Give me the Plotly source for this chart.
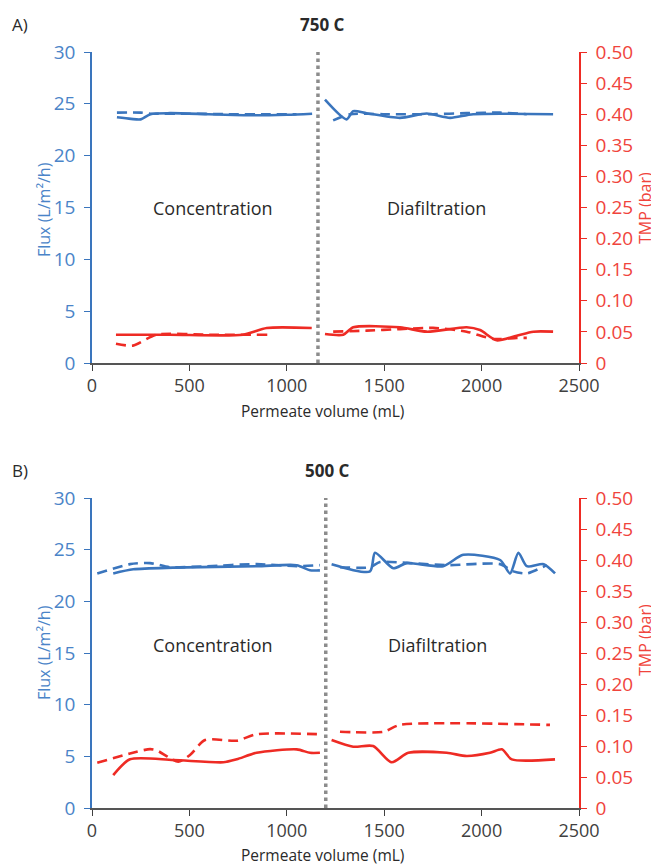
import plotly.graph_objects as go

# ---------------- DATA ----------------
# Panel A (750 C)
a_flux_solid_conc_x = [128, 200, 250, 300, 400, 600, 800, 1000, 1130]
a_flux_solid_conc_y = [23.7, 23.55, 23.5, 24.0, 24.1, 24.0, 23.9, 23.95, 24.05]
a_flux_dash_conc_x = [128, 250, 300, 500, 700, 900, 1050]
a_flux_dash_conc_y = [24.15, 24.15, 24.05, 24.05, 24.0, 24.0, 24.0]
a_flux_solid_dia_x = [1196, 1307, 1341, 1410, 1581, 1718, 1838, 1957, 2367]
a_flux_solid_dia_y = [25.4, 23.5, 24.3, 24.1, 23.65, 24.07, 23.65, 24.0, 24.0]
a_flux_dash_dia_x = [1238, 1325, 1494, 1751, 1923, 2095, 2232]
a_flux_dash_dia_y = [23.4, 24.0, 24.0, 24.0, 24.1, 24.15, 24.0]

a_tmp_solid_conc_x = [123, 400, 775, 897, 1128]
a_tmp_solid_conc_y = [0.0455, 0.0455, 0.0455, 0.0563, 0.0563]
a_tmp_dash_conc_x = [123, 210, 330, 600, 900]
a_tmp_dash_conc_y = [0.031, 0.028, 0.0455, 0.0455, 0.0455]
a_tmp_solid_dia_x = [1196, 1290, 1341, 1581, 1718, 1923, 1992, 2077, 2180, 2266, 2367]
a_tmp_solid_dia_y = [0.0466, 0.0455, 0.0574, 0.0574, 0.0504, 0.0574, 0.053, 0.0365, 0.044, 0.0504, 0.0504]
a_tmp_dash_dia_x = [1238, 1410, 1581, 1751, 1923, 2060, 2180, 2232]
a_tmp_dash_dia_y = [0.0504, 0.052, 0.0545, 0.0565, 0.0504, 0.0386, 0.0404, 0.0404]

# Panel B (500 C)
b_flux_solid_conc_x = [109, 212, 416, 845, 1051, 1119, 1170]
b_flux_solid_conc_y = [22.7, 23.1, 23.26, 23.4, 23.5, 23.0, 23.0]
b_flux_dash_conc_x = [27, 195, 298, 400, 589, 845, 1051, 1170]
b_flux_dash_conc_y = [22.7, 23.6, 23.7, 23.3, 23.4, 23.6, 23.4, 23.5]
b_flux_solid_dia_x = [1230, 1427, 1453, 1547, 1615, 1803, 1906, 2095, 2146, 2189, 2232, 2319, 2377]
b_flux_solid_dia_y = [23.6, 22.9, 24.7, 23.2, 23.7, 23.4, 24.5, 24.0, 22.7, 24.7, 23.4, 23.6, 22.7]
b_flux_dash_dia_x = [1273, 1427, 1478, 1632, 1821, 2095, 2163, 2232, 2334]
b_flux_dash_dia_y = [23.3, 23.3, 23.8, 23.7, 23.5, 23.6, 22.9, 22.7, 23.5]

b_tmp_solid_conc_x = [109, 195, 417, 674, 743, 845, 1051, 1119, 1170]
b_tmp_solid_conc_y = [0.053, 0.0785, 0.0774, 0.0737, 0.0785, 0.089, 0.0946, 0.089, 0.089]
b_tmp_dash_conc_x = [27, 195, 298, 332, 443, 503, 580, 743, 845, 1170]
b_tmp_dash_conc_y = [0.073, 0.088, 0.095, 0.093, 0.0747, 0.0855, 0.1097, 0.1086, 0.119, 0.119]
b_tmp_solid_dia_x = [1230, 1341, 1443, 1538, 1624, 1821, 1923, 2043, 2104, 2155, 2377]
b_tmp_solid_dia_y = [0.1097, 0.0989, 0.1, 0.0737, 0.089, 0.089, 0.0839, 0.089, 0.0946, 0.0785, 0.0785]
b_tmp_dash_dia_x = [1273, 1496, 1581, 2351]
b_tmp_dash_dia_y = [0.123, 0.123, 0.134, 0.134]

divider_a = 1160
divider_b = 1200

x_ticks = [0, 500, 1000, 1500, 2000, 2500]
flux_ticks = [0, 5, 10, 15, 20, 25, 30]
tmp_ticks = [0, 0.05, 0.10, 0.15, 0.20, 0.25, 0.30, 0.35, 0.40, 0.45, 0.50]
tmp_tick_text = ["0", "0.05", "0.10", "0.15", "0.20", "0.25", "0.30", "0.35", "0.40", "0.45", "0.50"]

panel_titles = ["750 C", "500 C"]
panel_letters = ["A)", "B)"]

# ---------------- STYLE ----------------
BLUE = "#3a75bd"
RED = "#ee2b24"
BLUE_TXT = "#4a84c8"
RED_TXT = "#f0443c"
GRAY = "#8c8c8c"
FONT = "Open Sans"
TXT = "#2a2a2a"

fig = go.Figure()

def add(x, y, color, dash, xa, ya):
    fig.add_trace(go.Scatter(
        x=x, y=y, mode="lines", xaxis=xa, yaxis=ya, showlegend=False,
        line=dict(color=color, width=2.6, dash=dash, shape="spline", smoothing=0.7),
        hoverinfo="skip"))

SOLID = "solid"
DASH = "10px,6px"

# Panel A: x, y (flux), y2 (tmp)
add(a_flux_dash_conc_x, a_flux_dash_conc_y, BLUE, DASH, "x", "y")
add(a_flux_solid_conc_x, a_flux_solid_conc_y, BLUE, SOLID, "x", "y")
add(a_flux_dash_dia_x, a_flux_dash_dia_y, BLUE, DASH, "x", "y")
add(a_flux_solid_dia_x, a_flux_solid_dia_y, BLUE, SOLID, "x", "y")
add(a_tmp_dash_conc_x, a_tmp_dash_conc_y, RED, DASH, "x", "y2")
add(a_tmp_solid_conc_x, a_tmp_solid_conc_y, RED, SOLID, "x", "y2")
add(a_tmp_dash_dia_x, a_tmp_dash_dia_y, RED, DASH, "x", "y2")
add(a_tmp_solid_dia_x, a_tmp_solid_dia_y, RED, SOLID, "x", "y2")

# Panel B: x2, y3 (flux), y4 (tmp)
add(b_flux_dash_conc_x, b_flux_dash_conc_y, BLUE, DASH, "x2", "y3")
add(b_flux_solid_conc_x, b_flux_solid_conc_y, BLUE, SOLID, "x2", "y3")
add(b_flux_dash_dia_x, b_flux_dash_dia_y, BLUE, DASH, "x2", "y3")
add(b_flux_solid_dia_x, b_flux_solid_dia_y, BLUE, SOLID, "x2", "y3")
add(b_tmp_dash_conc_x, b_tmp_dash_conc_y, RED, DASH, "x2", "y4")
add(b_tmp_solid_conc_x, b_tmp_solid_conc_y, RED, SOLID, "x2", "y4")
add(b_tmp_dash_dia_x, b_tmp_dash_dia_y, RED, DASH, "x2", "y4")
add(b_tmp_solid_dia_x, b_tmp_solid_dia_y, RED, SOLID, "x2", "y4")

# Divider lines
fig.add_shape(type="line", xref="x", yref="y", x0=divider_a, x1=divider_a, y0=0, y1=30,
              line=dict(color=GRAY, width=3.5, dash="dot"), layer="below")
fig.add_shape(type="line", xref="x2", yref="y3", x0=divider_b, x1=divider_b, y0=0, y1=30,
              line=dict(color=GRAY, width=3.5, dash="dot"), layer="below")

# page geometry (body has 8px margin): plot area spans x 92..579, y 52..808
dom_a = [0.5886, 1.0]
dom_b = [0.0, 0.41005]

TICK_SIZE = 19
tick_font_blue = dict(family=FONT, size=TICK_SIZE, color=BLUE_TXT)
tick_font_red = dict(family=FONT, size=TICK_SIZE, color=RED_TXT)
tick_font_x = dict(family=FONT, size=18, color="#404040")

def xaxis(anchor):
    return dict(domain=[0, 1], range=[0, 2500], tickvals=x_ticks, ticks="outside", ticklen=6,
                tickcolor="#404040", showline=True, linecolor="#555555", linewidth=1.5,
                showgrid=False, zeroline=False, tickfont=tick_font_x, anchor=anchor,
                ticklabelstandoff=0)

def yleft(dom, anchor):
    return dict(domain=dom, range=[0, 30], tickvals=flux_ticks, ticks="outside", ticklen=6,
                tickcolor=BLUE, showline=True, linecolor=BLUE, linewidth=1.5,
                showgrid=False, zeroline=False, tickfont=tick_font_blue, anchor=anchor,
                ticklabelstandoff=5)

def yright(dom, anchor, overlay):
    return dict(domain=dom, range=[0, 0.5], tickvals=tmp_ticks, ticktext=tmp_tick_text,
                ticks="outside", ticklen=6, tickcolor=RED, showline=True, linecolor=RED,
                linewidth=1.5, showgrid=False, zeroline=False, tickfont=tick_font_red,
                side="right", overlaying=overlay, anchor=anchor, ticklabelstandoff=5)

fig.update_layout(
    width=651, height=860,
    margin=dict(l=84, r=80, t=44, b=60, autoexpand=False),
    paper_bgcolor="white", plot_bgcolor="white",
    font=dict(family=FONT),
    xaxis=xaxis("y"),
    xaxis2=xaxis("y3"),
    yaxis=yleft(dom_a, "x"),
    yaxis2=yright(dom_a, "x", "y"),
    yaxis3=yleft(dom_b, "x2"),
    yaxis4=yright(dom_b, "x2", "y3"),
)

def px(xp):
    return (xp - 92) / 487.0

def py(yp):
    return (808 - yp) / 756.0

ann = []
for letter, ypix in zip(panel_letters, [25, 470]):
    ann.append(dict(text=letter, x=px(10), y=py(ypix), xref="paper", yref="paper",
                    xanchor="left", yanchor="middle", showarrow=False,
                    font=dict(family=FONT, size=17, color=TXT)))
for title, xpix, ypix in zip(panel_titles, [322, 327], [25, 470]):
    ann.append(dict(text="<b>" + title + "</b>", x=px(xpix), y=py(ypix), xref="paper", yref="paper",
                    xanchor="center", yanchor="middle", showarrow=False,
                    font=dict(family=FONT, size=17, color=TXT)))

label_font = dict(family=FONT, size=18, color=TXT)
ann.append(dict(text="Concentration", x=px(213), y=py(208), xref="paper", yref="paper",
                xanchor="center", yanchor="middle", showarrow=False, font=label_font))
ann.append(dict(text="Diafiltration", x=px(436), y=py(208), xref="paper", yref="paper",
                xanchor="center", yanchor="middle", showarrow=False, font=label_font))
ann.append(dict(text="Concentration", x=px(213), y=py(645), xref="paper", yref="paper",
                xanchor="center", yanchor="middle", showarrow=False, font=label_font))
ann.append(dict(text="Diafiltration", x=px(437), y=py(645), xref="paper", yref="paper",
                xanchor="center", yanchor="middle", showarrow=False, font=label_font))

title_font = dict(family=FONT, size=15.5, color=TXT)
for ypix in [411, 855]:
    ann.append(dict(text="Permeate volume (mL)", x=px(322), y=py(ypix), xref="paper", yref="paper",
                    xanchor="center", yanchor="middle", showarrow=False, font=title_font))

for ypix in [210, 653]:
    ann.append(dict(text="Flux (L/m²/h)", x=px(44), y=py(ypix), xref="paper", yref="paper",
                    xanchor="center", yanchor="middle", textangle=-90, showarrow=False,
                    font=dict(family=FONT, size=16, color=BLUE_TXT)))
for ypix in [208, 640]:
    ann.append(dict(text="TMP (bar)", x=px(645), y=py(ypix), xref="paper", yref="paper",
                    xanchor="center", yanchor="middle", textangle=-90, showarrow=False,
                    font=dict(family=FONT, size=16, color=RED_TXT)))

fig.update_layout(annotations=ann)

fig.write_html("out.html")
